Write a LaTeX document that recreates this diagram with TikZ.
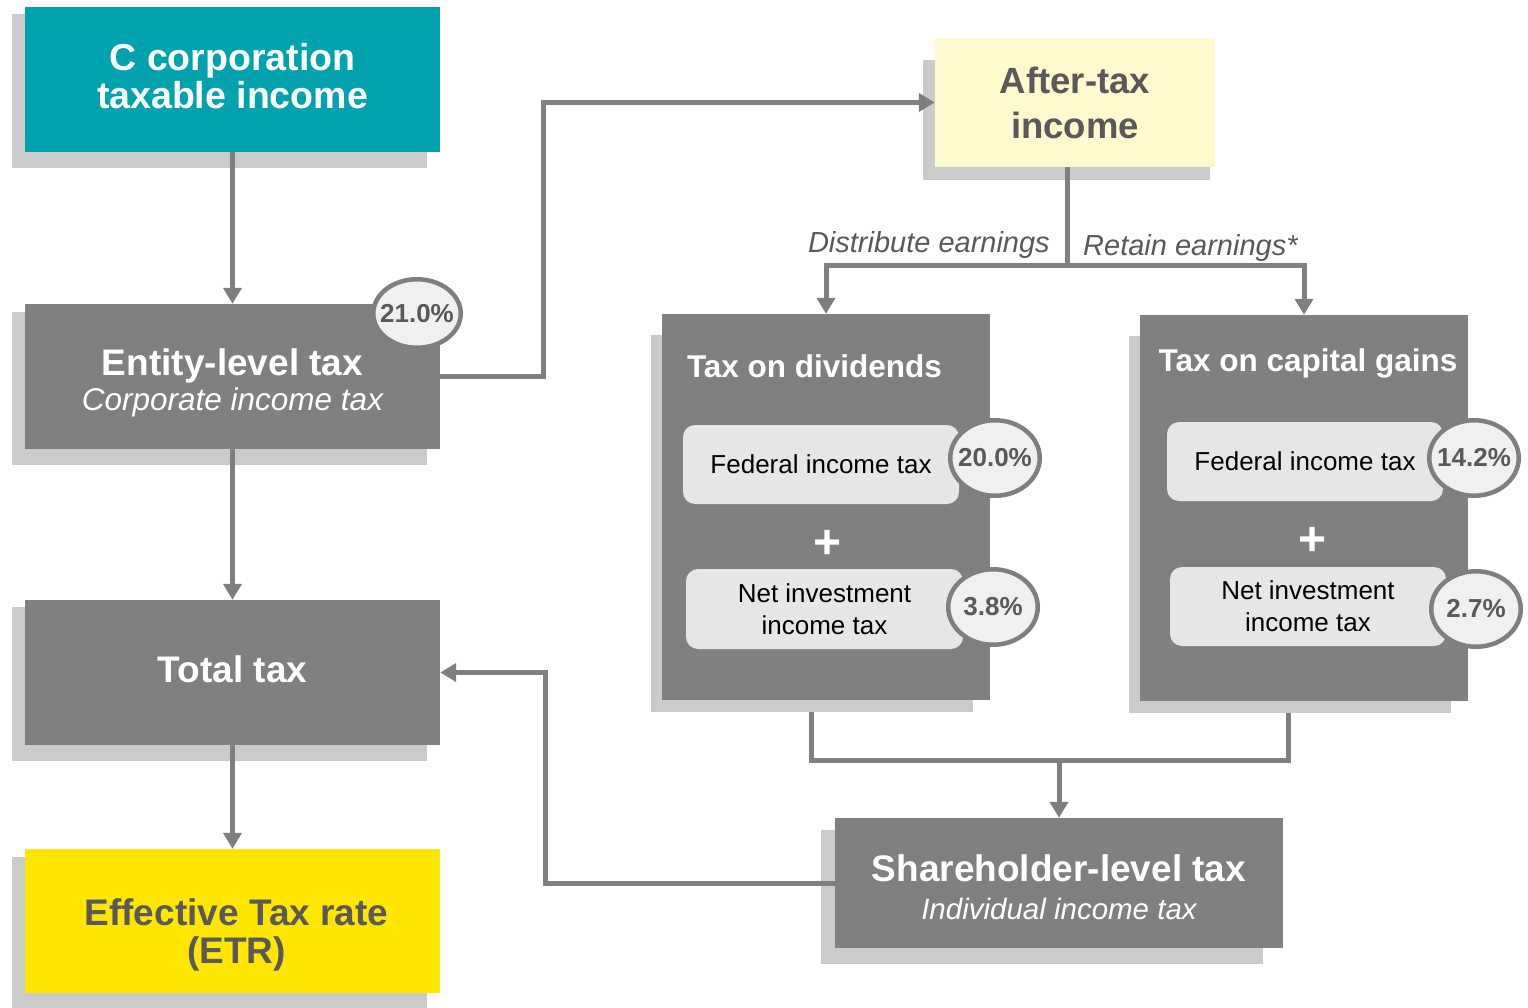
\documentclass[tikz,border=0pt]{standalone}
\usepackage{fontspec}
\setmainfont{Liberation Sans}
\usetikzlibrary{arrows.meta,shapes.geometric,backgrounds}
\definecolor{dgTeal}{HTML}{00A3AD}
\definecolor{dgGray}{HTML}{808080}
\definecolor{dgLine}{HTML}{7F7F7F}
\definecolor{dgShade}{HTML}{CBCBCB}
\definecolor{dgYellow}{HTML}{FFE600}
\definecolor{dgPale}{HTML}{FFFACD}
\definecolor{dgDark}{HTML}{595959}
\definecolor{dgInner}{HTML}{E6E6E6}
\definecolor{dgPct}{HTML}{F0F0F0}
\newcommand\dgShadow[5]{\fill[dgShade] ([shift={(#2,#3)}]#1.north west) rectangle ([shift={(#4,#5)}]#1.south east);}
\begin{document}
\begin{tikzpicture}[x=1pt,y=-1pt,
  box/.style={rectangle, inner sep=0pt, align=center},
  darkbox/.style={box, fill=dgGray, text=white},
  boxtext/.style={inner sep=0pt, align=center},
  arr/.style={draw=dgLine, line width=5pt, -{Triangle[width=18pt,length=16pt]}},
  plainline/.style={draw=dgLine, line width=5pt},
  innerbox/.style={rectangle, rounded corners=12pt, fill=dgInner, inner sep=0pt, align=center,
    text=black, minimum width=276pt, minimum height=79pt, font=\fontsize{26}{32}\selectfont},
  pct/.style={ellipse, fill=dgPct, draw=dgLine, line width=4.5pt, inner sep=0pt,
    minimum width=89.5pt, minimum height=75.5pt, text=dgDark, font=\fontsize{26}{30}\selectfont\bfseries},
  plus/.style={text=white, inner sep=0pt, font=\fontsize{48}{48}\selectfont\bfseries},
  lbl/.style={text=dgDark, inner sep=0pt, font=\fontsize{29}{32}\selectfont\itshape},
  grouptitle/.style={text=white, inner sep=0pt, font=\fontsize{31.5}{34}\selectfont\bfseries}
]
\useasboundingbox (0,0) rectangle (1528,1008);

% left column
\node[box, fill=dgTeal, minimum width=415pt, minimum height=145pt] (ccorp) at (232.5,79.5) {};
\node[boxtext, text=white, font=\fontsize{37.5}{38}\selectfont\bfseries] (ccorptext) at (232.5,76.5)
  {C corporation\\taxable income};
\node[darkbox, minimum width=415pt, minimum height=145pt] (entity) at (232.5,376.5) {};
\node[boxtext, text=white, font=\fontsize{37}{35}\selectfont\bfseries] (entitytext) at (232.5,382.5)
  {Entity-level tax\\{\fontsize{31.5}{35}\selectfont\mdseries\itshape Corporate income tax}};
\node[darkbox, minimum width=415pt, minimum height=145pt] (total) at (232.5,672.5) {};
\node[boxtext, text=white, font=\fontsize{37}{38}\selectfont\bfseries] (totaltext) at (232.5,669.5) {Total tax};
\node[box, fill=dgYellow, minimum width=415pt, minimum height=144pt] (etr) at (232.5,921) {};
\node[boxtext, text=dgDark, font=\fontsize{37}{38}\selectfont\bfseries] (etrtext) at (236.5,935)
  {Effective Tax rate\\(ETR)};

% after-tax income
\node[box, fill=dgPale, text=dgDark, minimum width=280pt, minimum height=129pt,
  font=\fontsize{36.5}{45}\selectfont\bfseries] (after) at (1075,102.5) {After-tax\\income};

% dividends group
\node[darkbox, minimum width=328pt, minimum height=386pt] (div) at (826,507) {};
\node[grouptitle] (divtitle) at (814.5,366) {Tax on dividends};
\node[innerbox] (fed1) at (821,464.5) {Federal income tax};
\node[plus] (plus1) at (828,544) {+};
\node[innerbox, minimum width=277pt, minimum height=80pt] (nii1) at (824.5,609) {Net investment\\income tax};

% capital gains group
\node[darkbox, minimum width=328pt, minimum height=386pt] (cg) at (1304,508) {};
\node[grouptitle] (cgtitle) at (1308,363) {Tax on capital gains};
\node[innerbox] (fed2) at (1305,461.5) {Federal income tax};
\node[plus] (plus2) at (1312,541) {+};
\node[innerbox] (nii2) at (1308,606.5) {Net investment\\income tax};

% shareholder
\node[darkbox, minimum width=448pt, minimum height=130pt] (share) at (1059,883) {};
\node[boxtext, text=white, font=\fontsize{37}{38}\selectfont\bfseries] (sharetext) at (1059,887)
  {Shareholder-level tax\\{\fontsize{29.5}{38}\selectfont\mdseries\itshape Individual income tax}};

% shadows
\begin{scope}[on background layer]
\dgShadow{ccorp}{-13}{7}{-13}{16}
\dgShadow{entity}{-13}{8}{-13}{16}
\dgShadow{total}{-13}{7}{-13}{16}
\dgShadow{etr}{-13}{8}{-13}{15}
\dgShadow{after}{-12}{22}{-5}{13}
\dgShadow{div}{-11}{21}{-17}{12}
\dgShadow{cg}{-11}{21}{-17}{12}
\dgShadow{share}{-14}{12}{-20}{16}
\end{scope}

% connectors
\draw[arr] (ccorp.south) -- (entity.north);
\draw[arr] (entity.south) -- (total.north);
\draw[arr] (total.south) -- (etr.north);
\draw[arr] (entity.east) -- ++(103,0) |- (after.west);
\draw[plainline] ([xshift=-8pt]after.south) -- ++(0,98) coordinate (split);
\draw[arr] (split) -| (div.north);
\draw[arr] (split) -| (cg.north);
\coordinate (merge) at (1059,760);
\draw[plainline] ([shift={(-15,12)}]div.south) |- (merge) -| ([shift={(-16,12)}]cg.south);
\draw[arr] (merge) -- (share.north);
\draw[arr] (share.west) -- ++(-289,0) |- (total.east);

% labels
\node[lbl, anchor=base east] (distlbl) at (1050,253) {Distribute earnings};
\node[lbl, anchor=base west] (retlbl) at (1083,256) {Retain earnings*};

% percentages
\node[pct, minimum width=87.5pt, minimum height=68.5pt] (p21) at (417,313.5) {\makebox[0pt]{\raisebox{-2pt}{21.0\%}}};
\node[pct] (p20) at (995,458) {\makebox[0pt]{20.0\%}};
\node[pct] (p38) at (993,607) {\makebox[0pt]{3.8\%}};
\node[pct] (p142) at (1474,458) {\makebox[0pt]{14.2\%}};
\node[pct] (p27) at (1476,609) {\makebox[0pt]{2.7\%}};
\end{tikzpicture}
\end{document}
